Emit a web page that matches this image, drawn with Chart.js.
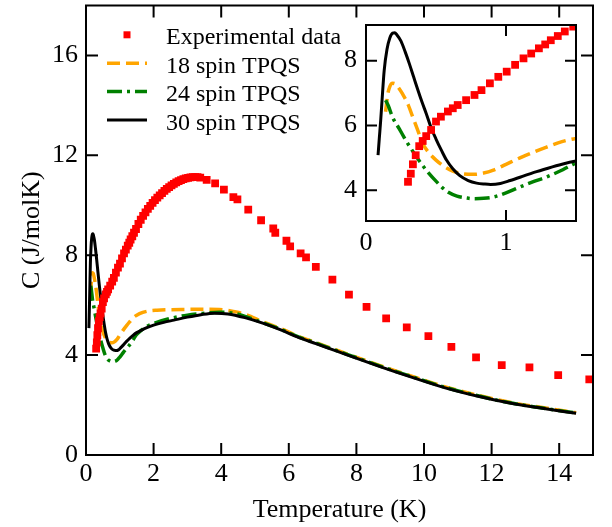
<!DOCTYPE html>
<html lang="en">
<head>
  <meta charset="UTF-8">
  <title>Specific heat vs temperature</title>
  <script src="https://cdn.jsdelivr.net/npm/chart.js"></script>
  <style>
    body { margin: 0; background: #fff; }
    .wrap { position: relative; width: 612px; height: 527px; }
    #mainChart { position: absolute; left: 0; top: 0; }
    #insetChart { position: absolute; left: 300px; top: 0; }
  </style>
</head>
<body>
  <div class="wrap">
    <canvas id="mainChart" width="612" height="527"></canvas>
    <canvas id="insetChart" width="300" height="260"></canvas>
  </div>

  <script>
    // series names (legend order)
    const seriesNames = ['Experimental data', '18 spin TPQS', '24 spin TPQS', '30 spin TPQS'];

    // experimental data
    const expT = [0.30, 0.32, 0.335, 0.355, 0.38, 0.405, 0.43, 0.465, 0.50, 0.535, 0.585, 0.62, 0.655, 0.715, 0.775, 0.825,
      0.885, 0.945, 1.005, 1.065, 1.125, 1.18, 1.235, 1.28, 1.32, 1.37, 1.42, 1.48, 1.55, 1.62, 1.69, 1.76, 1.83, 1.9,
      1.97, 2.04, 2.11, 2.18, 2.25, 2.32, 2.39, 2.46, 2.53, 2.6, 2.67, 2.74, 2.81, 2.88, 2.95, 3.02, 3.09, 3.16, 3.23,
      3.3, 3.38, 3.57, 3.82, 4.08, 4.36, 4.48, 4.80, 5.18, 5.54, 5.60, 5.93, 6.04, 6.35, 6.51, 6.80, 7.29, 7.78, 8.30,
      8.88, 9.49, 10.13, 10.81, 11.54, 12.3, 13.12, 13.97, 14.89];
    const expC = [4.26, 4.51, 4.80, 5.08, 5.36, 5.52, 5.67, 5.86, 6.12, 6.27, 6.43, 6.53, 6.63, 6.78, 6.94, 7.09,
      7.30, 7.50, 7.66, 7.87, 8.07, 8.22, 8.38, 8.50, 8.63, 8.76, 8.90, 9.05, 9.25, 9.42, 9.58, 9.72, 9.86, 9.98,
      10.1, 10.21, 10.31, 10.4, 10.49, 10.58, 10.66, 10.73, 10.8, 10.86, 10.92, 10.97, 11.01, 11.05, 11.08, 11.1, 11.12, 11.13, 11.13,
      11.13, 11.11, 11.02, 10.88, 10.63, 10.33, 10.24, 9.83, 9.4, 9.07, 8.9, 8.58, 8.35, 8.07, 7.91, 7.53, 7.02, 6.42, 5.93,
      5.47, 5.11, 4.76, 4.33, 3.91, 3.6, 3.51, 3.2, 3.03];

    // 18 spin TPQS
    const t18 = [0.14, 0.155, 0.17, 0.19, 0.21, 0.235, 0.26, 0.3, 0.333, 0.37, 0.405, 0.45, 0.50, 0.56, 0.62, 0.69, 0.765,
      0.84, 0.91, 1.0, 1.1, 1.2, 1.29, 1.4, 1.5, 1.68, 1.9, 2.1, 2.5, 3.0, 3.5, 3.94, 4.44, 4.73, 5.25, 5.8, 6.25, 6.8,
      7.25, 7.7, 8.2, 8.7, 9.2, 9.9, 10.6, 11.6, 12.5, 13.5, 14.5];
    const c18 = [6.42, 6.95, 7.2, 7.3, 7.28, 7.15, 6.98, 6.65, 6.27, 5.85, 5.44, 5.15, 4.93, 4.73, 4.59, 4.51, 4.49,
      4.53, 4.62, 4.8, 5.0, 5.18, 5.33, 5.5, 5.6, 5.71, 5.78, 5.8, 5.82, 5.83, 5.84, 5.83, 5.73, 5.62, 5.32, 5.04, 4.77, 4.5,
      4.28, 4.06, 3.82, 3.58, 3.35, 3.04, 2.74, 2.39, 2.12, 1.9, 1.69];

    // 24 spin TPQS
    const t24 = [0.14, 0.16, 0.19, 0.237, 0.29, 0.345, 0.39, 0.43, 0.5, 0.573, 0.65, 0.72, 0.765, 0.84, 0.91, 1.0, 1.1,
      1.2, 1.29, 1.39, 1.48, 1.6, 1.8, 2.0, 2.5, 3.0, 3.45, 3.94, 4.44, 4.73, 5.25, 5.8, 6.25, 6.8, 7.25, 7.7, 8.2, 8.7,
      9.2, 9.9, 10.6, 11.6, 12.5, 13.5, 14.5];
    const c24 = [6.78, 6.6, 6.25, 5.9, 5.5, 5.13, 4.85, 4.62, 4.28, 3.98, 3.82, 3.76, 3.74, 3.75, 3.79, 3.92, 4.1,
      4.27, 4.41, 4.6, 4.8, 4.95, 5.15, 5.27, 5.47, 5.6, 5.67, 5.72, 5.66, 5.54, 5.29, 5.01, 4.75, 4.48, 4.26, 4.04, 3.8, 3.56,
      3.33, 3.02, 2.72, 2.37, 2.1, 1.88, 1.68];

    // 30 spin TPQS
    const t30 = [0.086, 0.095, 0.105, 0.115, 0.13, 0.15, 0.17, 0.19, 0.205, 0.22, 0.25, 0.28, 0.31, 0.34, 0.37, 0.40,
      0.43, 0.465, 0.50, 0.54, 0.575, 0.62, 0.67, 0.73, 0.79, 0.85, 0.89, 0.96, 1.03, 1.1, 1.2, 1.3, 1.4, 1.5, 1.6, 1.8,
      2.0, 2.3, 2.6, 3.0, 3.4, 3.8, 4.2, 4.7, 5.25, 5.8, 6.25, 6.8, 7.25, 7.7, 8.2, 8.7, 9.2, 9.9, 10.6, 11.6, 12.5, 13.5, 14.5];
    const c30 = [5.08, 5.6, 6.16, 6.8, 7.7, 8.35, 8.7, 8.85, 8.86, 8.8, 8.6, 8.27, 7.9, 7.5, 7.1, 6.72,
      6.37, 5.93, 5.58, 5.22, 4.93, 4.66, 4.45, 4.3, 4.22, 4.19, 4.18, 4.21, 4.3, 4.4, 4.55, 4.68, 4.8, 4.9, 4.97, 5.1,
      5.2, 5.31, 5.4, 5.52, 5.62, 5.68, 5.65, 5.5, 5.27, 4.99, 4.73, 4.46, 4.24, 4.02, 3.78, 3.54, 3.31, 3.0, 2.7, 2.35, 2.09, 1.87, 1.67];

    // tick values
    const mainXTicks = [0, 2, 4, 6, 8, 10, 12, 14];
    const mainYTicks = [0, 4, 8, 12, 16];
    const insetXTicks = [0, 1];
    const insetYTicks = [4, 6, 8];

    const serif = 'Liberation Serif';
    const toPts = (xs, ys) => xs.map((v, i) => ({ x: v, y: ys[i] }));

    const styles = [
      { color: '#ff0000', dash: null, width: 0 },
      { color: '#ffa500', dash: [13, 6], width: 3.5 },
      { color: '#008000', dash: [15, 5, 3, 5], width: 3.5 },
      { color: '#000000', dash: [], width: 3 }
    ];

    function makeDatasets() {
      const line = (name, pts, st, order) => ({
        label: name, data: pts, showLine: true, pointRadius: 0,
        borderColor: st.color, borderWidth: st.width, borderDash: st.dash,
        cubicInterpolationMode: 'monotone', order: order
      });
      return [
        {
          label: seriesNames[0], data: toPts(expT, expC), showLine: false,
          pointStyle: 'rect', pointRadius: 5.5, backgroundColor: '#ff0000', borderWidth: 0, order: 0
        },
        line(seriesNames[1], toPts(t18, c18), styles[1], 3),
        line(seriesNames[2], toPts(t24, c24), styles[2], 2),
        line(seriesNames[3], toPts(t30, c30), styles[3], 1)
      ];
    }

    // box round the plot with inward ticks on all four sides
    const frameTicks = {
      id: 'frameTicks',
      afterDatasetsDraw(chart, args, opts) {
        const { ctx, chartArea: a, scales: { x, y } } = chart;
        const len = opts.len || 12;
        ctx.save();
        ctx.strokeStyle = '#000';
        ctx.lineWidth = 2;
        ctx.beginPath();
        x.ticks.forEach(t => {
          const px = x.getPixelForValue(t.value);
          ctx.moveTo(px, a.bottom); ctx.lineTo(px, a.bottom - len);
          ctx.moveTo(px, a.top); ctx.lineTo(px, a.top + len);
        });
        y.ticks.forEach(t => {
          const py = y.getPixelForValue(t.value);
          ctx.moveTo(a.left, py); ctx.lineTo(a.left + len, py);
          ctx.moveTo(a.right, py); ctx.lineTo(a.right - len, py);
        });
        ctx.stroke();
        ctx.strokeRect(a.left, a.top, a.right - a.left, a.bottom - a.top);
        ctx.restore();
      }
    };

    // legend in the upper left + axis titles
    const mainDecor = {
      id: 'mainDecor',
      afterDraw(chart) {
        const { ctx, chartArea: a } = chart;
        ctx.save();
        ctx.fillStyle = '#000';
        ctx.font = '26px "' + serif + '"';
        ctx.textAlign = 'center';
        ctx.textBaseline = 'alphabetic';
        ctx.fillText('Temperature (K)', (a.left + a.right) / 2, 517);
        ctx.translate(39, (a.top + a.bottom) / 2);
        ctx.rotate(-Math.PI / 2);
        ctx.fillText('C (J/molK)', 0, 0);
        ctx.restore();

        ctx.save();
        ctx.font = '24px "' + serif + '"';
        ctx.textAlign = 'left';
        ctx.textBaseline = 'alphabetic';
        const baseY = 44.3, step = 28.4;
        seriesNames.forEach((name, i) => {
          const by = baseY + i * step;
          const sy = by - 9.5;
          const st = styles[i];
          if (i === 0) {
            ctx.fillStyle = st.color;
            ctx.fillRect(123.5, sy - 3.5, 7, 7);
          } else {
            ctx.strokeStyle = st.color;
            ctx.lineWidth = st.width;
            ctx.setLineDash(st.dash);
            ctx.beginPath();
            ctx.moveTo(107, sy); ctx.lineTo(147, sy);
            ctx.stroke();
            ctx.setLineDash([]);
          }
          ctx.fillStyle = '#000';
          ctx.fillText(name, 166, by);
        });
        ctx.restore();
      }
    };

    const tickFont = { family: serif, size: 26 };
    const noPad = s => { s.paddingTop = 0; s.paddingBottom = 0; s.paddingLeft = 0; s.paddingRight = 0; };

    new Chart(document.getElementById('mainChart'), {
      type: 'scatter',
      data: { datasets: makeDatasets() },
      options: {
        responsive: false,
        animation: false,
        layout: { padding: { top: 4, right: 19, left: 0, bottom: 0 } },
        plugins: { legend: { display: false }, tooltip: { enabled: false }, frameTicks: { len: 12 } },
        scales: {
          x: {
            type: 'linear', min: 0, max: 15,
            afterBuildTicks: s => { s.ticks = mainXTicks.map(v => ({ value: v })); },
            afterFit: s => { s.height = 72; noPad(s); },
            grid: { display: false, drawTicks: false }, border: { display: false },
            ticks: { color: '#000', font: tickFont, padding: 4, maxRotation: 0 }
          },
          y: {
            type: 'linear', min: 0, max: 18,
            afterBuildTicks: s => { s.ticks = mainYTicks.map(v => ({ value: v })); },
            afterFit: s => { s.width = 86; noPad(s); },
            grid: { display: false, drawTicks: false }, border: { display: false },
            ticks: { color: '#000', font: tickFont, padding: 8 }
          }
        }
      },
      plugins: [frameTicks, mainDecor]
    });

    new Chart(document.getElementById('insetChart'), {
      type: 'scatter',
      data: { datasets: makeDatasets() },
      options: {
        responsive: false,
        animation: false,
        layout: { padding: { top: 25, right: 24, left: 0, bottom: 0 } },
        plugins: { legend: { display: false }, tooltip: { enabled: false }, frameTicks: { len: 11 } },
        scales: {
          x: {
            type: 'linear', min: 0, max: 1.5,
            afterBuildTicks: s => { s.ticks = insetXTicks.map(v => ({ value: v })); },
            afterFit: s => { s.height = 39; noPad(s); },
            grid: { display: false, drawTicks: false }, border: { display: false },
            ticks: { color: '#000', font: tickFont, padding: 7, maxRotation: 0 }
          },
          y: {
            type: 'linear', min: 3.05, max: 9.1,
            afterBuildTicks: s => { s.ticks = insetYTicks.map(v => ({ value: v })); },
            afterFit: s => { s.width = 66; noPad(s); },
            grid: { display: false, drawTicks: false }, border: { display: false },
            ticks: { color: '#000', font: tickFont, padding: 9 }
          }
        }
      },
      plugins: [frameTicks]
    });
  </script>
</body>
</html>
